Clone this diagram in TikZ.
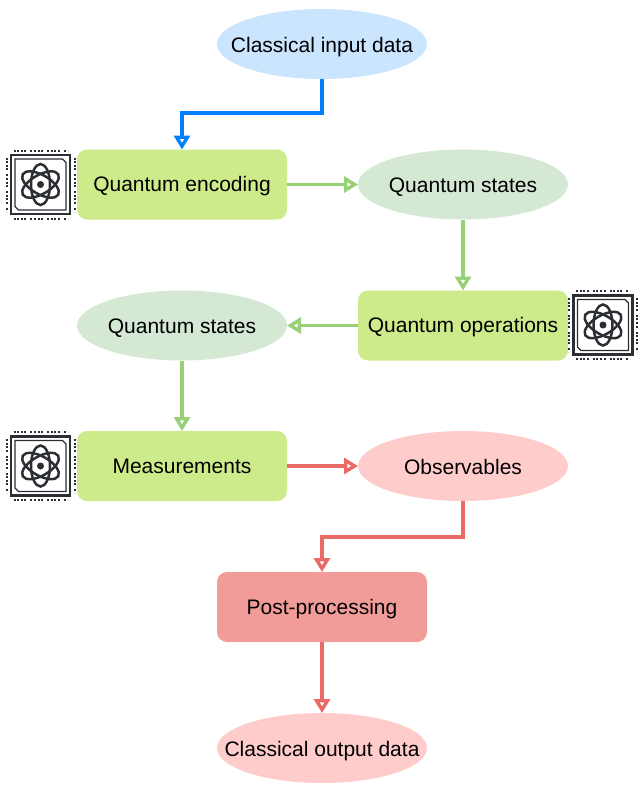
\documentclass[tikz,border=0pt]{standalone}
\usepackage{fontspec}
\setmainfont{Liberation Sans}
\usetikzlibrary{shapes.geometric,arrows.meta}
\definecolor{cinput}{HTML}{CCE5FF}
\definecolor{cgreen}{HTML}{CDEB8B}
\definecolor{cstate}{HTML}{D5E8D4}
\definecolor{cpink}{HTML}{FFCCCC}
\definecolor{cpost}{HTML}{F19C99}
\definecolor{lblue}{HTML}{007FFF}
\definecolor{lgreen}{HTML}{97D077}
\definecolor{lred}{HTML}{EA6B66}
\definecolor{icon}{HTML}{2B2F33}
\newcommand{\lbl}[1]{\makebox[0pt]{#1}}
\tikzset{
  x=1pt,y=-1pt,
  base/.style={inner sep=0pt,outer sep=0pt,minimum width=210pt,minimum height=70pt,text=black,text depth=3pt,font=\fontsize{21}{25}\selectfont},
  oval/.style={base,ellipse,text height=19pt},
  box/.style={base,rectangle,rounded corners=10pt,text height=17pt},
  conn/.style={line width=3.2pt,-{Triangle[open,fill=white,length=14pt,width=16pt,line width=3.4pt]}},
  dots/.style={icon,line width=2pt,dash pattern=on 2pt off 1.6pt on 2pt off 1.6pt on 2pt off 1.6pt on 2pt off 4pt},
  chipicon/.pic={
    \draw[icon,line width=2.6pt] (-29.5,-29.5) rectangle (29.5,29.5);
    \draw[icon,line width=1.3pt] (-22,-25.5) -- (22,-25.5) -- (25.5,-22) -- (25.5,25.5) -- (-22,25.5) -- (-25.5,22) -- (-25.5,-25.5) -- cycle;
    \draw[dots] (-27,-34) -- (27,-34);
    \draw[dots] (-27,34) -- (27,34);
    \draw[dots] (-34,-27) -- (-34,27);
    \draw[dots] (34,-27) -- (34,27);
    \foreach \a in {90,30,150}
      \draw[icon,line width=2.5pt,rotate=\a] (0,0) ellipse [x radius=20.5,y radius=9.5];
    \fill[icon] (0,0) circle (3.5);
  }
}
\begin{document}
\begin{tikzpicture}
\useasboundingbox (0,0) rectangle (644,790);
\node[oval,fill=cinput] (input) at (322,44) {\lbl{Classical input data}};
\node[box,fill=cgreen] (enc) at (182,184.5) {\lbl{Quantum encoding}};
\node[oval,fill=cstate] (st1) at (463,184.5) {\lbl{Quantum states}};
\node[box,fill=cgreen] (ops) at (463,325.5) {\lbl{Quantum operations}};
\node[oval,fill=cstate] (st2) at (182,325.5) {\lbl{Quantum states}};
\node[box,fill=cgreen] (meas) at (182,466) {\lbl{Measurements}};
\node[oval,fill=cpink] (obs) at (463,466) {\lbl{Observables}};
\node[box,fill=cpost] (post) at (322,607) {\lbl{Post-processing}};
\node[oval,fill=cpink] (out) at (322,748) {\lbl{Classical output data}};
\coordinate (bend1) at (322,113);
\coordinate (bend2) at (463,537);
\pic at (40.5,184.5) {chipicon};
\pic at (603,325) {chipicon};
\pic at (40.5,466) {chipicon};
\draw[conn,lblue] (input.south) -- (bend1) -| (enc.north);
\draw[conn,lgreen] (enc) -- (st1);
\draw[conn,lgreen] (st1) -- (ops);
\draw[conn,lgreen] (ops) -- (st2);
\draw[conn,lgreen] (st2) -- (meas);
\draw[conn,lred] (meas) -- (obs);
\draw[conn,lred] (obs.south) -- (bend2) -| (post.north);
\draw[conn,lred] (post) -- (out);
\end{tikzpicture}
\end{document}
